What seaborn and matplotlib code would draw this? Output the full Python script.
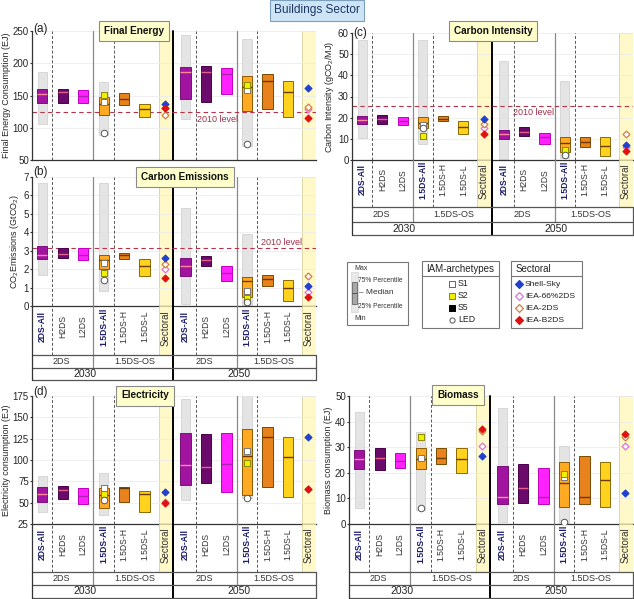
import numpy as np
import pandas as pd
import matplotlib
matplotlib.use('Agg')
import matplotlib.pyplot as plt
from matplotlib.patches import Rectangle
import seaborn as sns

# ---- categories / labels ----
years = ['2030', '2050']
cats = ['2DS-All', 'H2DS', 'L2DS', '1.5DS-All', '1.5DS-H', '1.5DS-L']
groups = ['2DS', '1.5DS-OS']
sectoral = ['Shell-Sky', 'IEA-66%2DS', 'IEA-2DS', 'IEA-B2DS']
archetypes = ['S1', 'S2', 'S5', 'LED']

# ---- (a) final energy (EJ): 6 categories 2030, then 6 for 2050 ----
fe_q1 = [138, 139, 138, 120, 135, 116, 144, 140, 152, 126, 129, 117]
fe_med = [152, 155, 149, 137, 145, 129, 186, 187, 184, 163, 173, 155]
fe_q3 = [160, 160, 159, 148, 154, 137, 194, 195, 192, 180, 184, 172]
fe_min = [106, 89, 113, 71]      # 2DS-All 2030, 1.5DS-All 2030, 2DS-All 2050, 1.5DS-All 2050
fe_max = [186, 171, 244, 238]
fe_s1 = [140, 159]               # 1.5DS-All 2030, 2050
fe_s2 = [151, 167]
fe_led = [92, 75]
fe_shell = [137, 162]            # sectoral 2030, 2050
fe_iea66 = [131, 129]
fe_iea2ds = [119, 132]
fe_b2ds = [130, 115]
fe_2010 = 124

# ---- (b) carbon emissions (GtCO2) ----
ce_q1 = [2.57, 2.60, 2.48, 2.03, 2.57, 1.61, 1.63, 2.15, 1.34, 0.49, 1.07, 0.27]
ce_med = [2.79, 2.84, 2.79, 2.48, 2.75, 2.15, 2.15, 2.48, 1.81, 1.34, 1.49, 1.00]
ce_q3 = [3.24, 3.17, 3.17, 2.75, 2.90, 2.53, 2.63, 2.71, 2.17, 1.57, 1.70, 1.43]
ce_min = [1.67, 0.82, 0.13, 0.04]
ce_max = [6.70, 6.70, 5.34, 3.93]
ce_s1 = [2.33, 0.80]
ce_s2 = [1.79, 0.43]
ce_led = [1.39, 0.22]
ce_shell = [2.61, 1.09]
ce_iea66 = [1.99, 0.76]
ce_iea2ds = [2.26, 1.63]
ce_b2ds = [1.54, 0.49]
ce_2010 = 3.15

# ---- (c) carbon intensity (gCO2/MJ) ----
ci_q1 = [16.9, 16.9, 16.6, 15.0, 18.5, 12.2, 9.9, 11.5, 7.4, 3.6, 6.3, 1.9]
ci_med = [18.9, 19.3, 18.5, 17.4, 19.6, 15.5, 12.2, 13.4, 11.1, 7.9, 8.4, 6.6]
ci_q3 = [20.8, 21.2, 20.2, 20.5, 21.0, 18.5, 14.2, 15.5, 12.9, 10.7, 10.7, 11.1]
ci_min = [10.3, 7.4, 0.3, 0.8]
ci_max = [56.5, 56.5, 46.9, 37.1]
ci_s1 = [16.5, 3.2]
ci_s2 = [11.5, 4.7]
ci_led = [15.0, 2.4]
ci_shell = [19.3, 7.1]
ci_iea66 = [15.2, 6.3]
ci_iea2ds = [17.1, 12.5]
ci_b2ds = [12.3, 4.3]
ci_2010 = 25.4

# ---- (d) electricity (EJ) ----
el_q1 = [50.4, 53.9, 48.1, 43.4, 51.1, 39.4, 70.7, 72.7, 62.2, 59.0, 68.0, 57.0]
el_med = [60.2, 64.8, 57.8, 59.0, 66.8, 60.2, 94.1, 92.2, 95.3, 104.7, 126.6, 103.2]
el_q3 = [68.0, 69.5, 66.8, 66.8, 68.0, 64.0, 132.0, 130.5, 132.0, 136.0, 139.0, 127.3]
el_min = [39.4, 35.5, 53.1, 55.0]
el_max = [81.2, 84.4, 171.5, 176.0]
el_s1 = [66.8, 110.9]
el_s2 = [60.2, 96.8]
el_led = [53.1, 55.8]
el_shell = [62.9, 126.6]
el_iea66 = [51.1, 65.7]
el_iea2ds = [np.nan, np.nan]
el_b2ds = [50.0, 66.5]

# ---- biomass (EJ) ----
bm_q1 = [21.3, 21.0, 21.7, 21.3, 23.4, 20.1, 7.8, 8.1, 7.8, 6.5, 7.7, 6.5]
bm_med = [25.2, 25.8, 24.5, 25.2, 25.8, 25.2, 10.6, 13.9, 10.6, 16.1, 10.6, 17.1]
bm_q3 = [29.1, 29.5, 27.8, 29.5, 29.7, 29.5, 22.6, 23.3, 21.9, 24.3, 26.5, 24.3]
bm_min = [6.1, 5.5, 0.9, 0.0]
bm_max = [43.7, 36.0, 45.4, 30.4]
bm_s1 = [25.6, 18.2]
bm_s2 = [33.8, 19.7]
bm_led = [6.4, 0.9]
bm_shell = [26.5, 12.3]
bm_iea66 = [30.4, 30.4]
bm_iea2ds = [36.4, 33.8]
bm_b2ds = [37.3, 35.3]

# ---- styling / layout ----
sns.set_style('white')
plt.rcParams['font.family'] = ['Liberation Sans', 'DejaVu Sans']
plt.rcParams['mathtext.fontset'] = 'custom'
plt.rcParams['mathtext.rm'] = 'Liberation Sans'

W, H = 634, 599
XMIN, XMAX = -0.5, 13.37
BOX_POS = np.array([0, 1, 2, 3, 4, 5, 7, 8, 9, 10, 11, 12])
ALL_POS = [0, 3, 7, 10]
IAM_POS = [3, 10]
SEC_POS = [6, 13]
DASHED = [0.5, 3.5, 7.5, 10.5]
THIN = [2.5, 9.5]
THICK = 6.4
BANDS = [(5.68, 6.36), (12.68, 13.36)]
YELLOW = '#fff9c9'
NAVY = '#1b1b6b'

BOX_COLS = ['#a0149f', '#6a0a6a', '#ff22ff', '#ffaa22', '#e8821c', '#ffd21e'] * 2
EDGE_COLS = ['#7a107a', '#4a004a', '#c000c0', '#8b5a00', '#7a4a00', '#8b6a00'] * 2
MED_COLS = ['#ff8a9a', '#e0608a', '#b020b0', '#6b3a00', '#6b3a00', '#6b3a00'] * 2

IAM_STYLE = {'S1': ('s', 16, 'white', '#777777'),
             'S2': ('s', 16, '#f2ee00', '#8a8a00'),
             'LED': ('o', 22, 'white', '#555555')}
SEC_STYLE = {'IEA-66%2DS': ('D', 12, 'white', '#e070e0'),
             'IEA-2DS': ('D', 12, 'white', '#d08040'),
             'Shell-Sky': ('D', 12, '#2040d0', '#2040d0'),
             'IEA-B2DS': ('D', 12, '#e01010', '#e01010')}


def frac(x0, y0, x1, y1):
    return [x0 / W, 1 - y1 / H, (x1 - x0) / W, (y1 - y0) / H]


def seps(ax, y0, y1, thin=True):
    for x in DASHED:
        ax.plot([x, x], [y0, y1], ls=(0, (3, 2)), color='#555555', lw=0.7, zorder=1.2)
    if thin:
        for x in THIN:
            ax.plot([x, x], [y0, y1], color='#8a8a8a', lw=0.9, zorder=1.2)
    ax.plot([THICK, THICK], [y0, y1], color='black', lw=1.4, zorder=1.2, clip_on=False)


def draw_panel(ax, q1, med, q3, lo, hi, s1, s2, led, sec, ylim, yticks, ylabel):
    q1, med, q3 = map(np.asarray, (q1, med, q3))
    ax.grid(axis='y', color='#ececec', lw=0.6)
    ax.set_axisbelow(True)
    for a, b in BANDS:
        ax.axvspan(a, b, fc=YELLOW, ec='#d8d09c', lw=0.6, zorder=0.5)
    seps(ax, ylim[0], ylim[1])
    ax.bar(ALL_POS, np.subtract(hi, lo), bottom=lo, width=0.44, color='#e4e4e4',
           edgecolor='#cdcdcd', lw=0.5, zorder=1.5)
    ax.bar(BOX_POS, q3 - q1, bottom=q1, width=0.5, color=BOX_COLS,
           edgecolor=EDGE_COLS, lw=0.7, zorder=2)
    ax.hlines(med, BOX_POS - 0.25, BOX_POS + 0.25, colors=MED_COLS, lw=1.0, zorder=3)

    iam = pd.DataFrame({'x': IAM_POS * 3, 'y': list(s1) + list(s2) + list(led),
                        'kind': ['S1'] * 2 + ['S2'] * 2 + ['LED'] * 2})
    for k, (m, s, fc, ec) in IAM_STYLE.items():
        d = iam[iam['kind'] == k].dropna()
        sns.scatterplot(data=d, x='x', y='y', marker=m, s=s, color=fc, edgecolor=ec,
                        linewidth=0.7, zorder=6, legend=False, ax=ax)
    sec_df = pd.DataFrame({'x': SEC_POS * 4, 'y': [v for vals in sec for v in vals],
                           'kind': [k for k in sectoral for _ in range(2)]})
    for k, (m, s, fc, ec) in SEC_STYLE.items():
        d = sec_df[sec_df['kind'] == k].dropna()
        sns.scatterplot(data=d, x='x', y='y', marker=m, s=s, color=fc, edgecolor=ec,
                        linewidth=0.9, zorder=6, legend=False, ax=ax)

    ax.set_xlim(XMIN, XMAX)
    ax.set_ylim(*ylim)
    ax.set_yticks(yticks)
    ax.set_xticks([])
    ax.set_xlabel('')
    ax.set_ylabel(ylabel, fontsize=6.5, labelpad=1.5)
    ax.tick_params(axis='y', labelsize=7, length=1.5, pad=0.8, left=True, color='#333333')
    for sp in ('top', 'right'):
        ax.spines[sp].set_visible(False)
    for sp in ('left', 'bottom'):
        ax.spines[sp].set_color('#333333')
        ax.spines[sp].set_linewidth(0.9)
    ax.patch.set_alpha(0)


def ref_line(ax, val, tx, ty):
    ax.axhline(val, color='#b5344a', ls=(0, (4, 3)), lw=0.8, zorder=1.6)
    ax.text(tx, ty, '2010 level', color='#a0304a', fontsize=6.5, ha='left', va='center', zorder=7)


def draw_table(ax, rows, sub_x, year_x):
    lab, sub, yr = rows
    tot = lab + sub + yr
    ys, yl = yr, yr + sub
    ax.set_xlim(XMIN, XMAX)
    ax.set_ylim(0, tot)
    ax.axis('off')
    for a, b in BANDS:
        ax.add_patch(Rectangle((a, yl), b - a, lab, fc=YELLOW, ec='#d8d09c', lw=0.6))
    seps(ax, yl, tot, thin=False)
    for x in THIN:
        ax.plot([x, x], [ys, tot], color='#8a8a8a', lw=0.9)
    ax.plot([THICK, THICK], [0, tot], color='black', lw=1.4, clip_on=False)
    for y in (0, ys, yl):
        ax.plot([XMIN, XMAX], [y, y], color='#555555', lw=0.9, clip_on=False)
    ax.plot([XMIN, XMIN], [0, tot], color='#333333', lw=0.9, clip_on=False)
    ax.plot([XMAX, XMAX], [0, yl], color='#555555', lw=0.9, clip_on=False)
    for j in range(2):
        for i, c in enumerate(cats):
            bold = c.endswith('All')
            ax.text(j * 7 + i, yl + lab * 0.58, c, rotation=90, ha='center', va='center',
                    fontsize=6.2, fontweight='bold' if bold else 'normal',
                    color=NAVY if bold else '#333333')
        ax.text(SEC_POS[j], yl + lab * 0.55, 'Sectoral', rotation=90, ha='center',
                va='center', fontsize=7, color='#333333')
    for x, g in zip(sub_x, groups * 2):
        ax.text(x, ys + sub / 2, g, ha='center', va='center', fontsize=6.5, color='#333333')
    for x, yv in zip(year_x, years):
        ax.text(x, yr / 2, yv, ha='center', va='center', fontsize=7.5, color='#222222')


fig = plt.figure(figsize=(6.34, 5.99), dpi=100)

# (a)
ax_a = fig.add_axes(frac(32, 31, 316, 160))
draw_panel(ax_a, fe_q1, fe_med, fe_q3, fe_min, fe_max, fe_s1, fe_s2, fe_led,
           [fe_shell, fe_iea66, fe_iea2ds, fe_b2ds], (50, 250), [50, 100, 150, 200, 250],
           'Final Energy Consumption (EJ)')
ref_line(ax_a, fe_2010, 7.55, 113.5)

# (b)
ax_b = fig.add_axes(frac(32, 177, 316, 306))
draw_panel(ax_b, ce_q1, ce_med, ce_q3, ce_min, ce_max, ce_s1, ce_s2, ce_led,
           [ce_shell, ce_iea66, ce_iea2ds, ce_b2ds], (0, 7), range(0, 8),
           r'CO$_\mathregular{2}$Emissions (GtCO$_\mathregular{2}$)')
ref_line(ax_b, ce_2010, 10.7, 3.47)
draw_table(fig.add_axes(frac(32, 306, 316, 380)), (49, 13, 12),
           [0.93, 4.5, 7.9, 11.3], [2.07, 9.59])

# (c)
ax_c = fig.add_axes(frac(352, 33, 633, 160))
draw_panel(ax_c, ci_q1, ci_med, ci_q3, ci_min, ci_max, ci_s1, ci_s2, ci_led,
           [ci_shell, ci_iea66, ci_iea2ds, ci_b2ds], (0, 60), range(0, 61, 10),
           r'Carbon Intensity (gCO$_\mathregular{2}$/MJ)')
ref_line(ax_c, ci_2010, 7.45, 22.4)
draw_table(fig.add_axes(frac(352, 160, 633, 235)), (47, 15, 13),
           [0.93, 4.5, 7.9, 11.3], [2.07, 9.59])

# (d)
ax_d = fig.add_axes(frac(32, 396, 316, 524))
draw_panel(ax_d, el_q1, el_med, el_q3, el_min, el_max, el_s1, el_s2, el_led,
           [el_shell, el_iea66, el_iea2ds, el_b2ds], (25, 175), range(25, 176, 25),
           'Electricity consumption (EJ)')
draw_table(fig.add_axes(frac(32, 524, 316, 598)), (48, 13, 13),
           [0.93, 4.5, 7.9, 11.3], [2.07, 9.59])

# biomass
ax_e = fig.add_axes(frac(349, 396, 633, 524))
draw_panel(ax_e, bm_q1, bm_med, bm_q3, bm_min, bm_max, bm_s1, bm_s2, bm_led,
           [bm_shell, bm_iea66, bm_iea2ds, bm_b2ds], (0, 50), range(0, 51, 10),
           'Biomass consumption (EJ)')
draw_table(fig.add_axes(frac(349, 524, 633, 598)), (48, 13, 13),
           [0.93, 4.5, 7.9, 11.3], [2.07, 9.59])

# ---- overlay in pixel coords: titles, panel letters, legend keys ----
ov = fig.add_axes([0, 0, 1, 1])
ov.set_xlim(0, W)
ov.set_ylim(H, 0)
ov.axis('off')

ov.text(317, 10.5, 'Buildings Sector', ha='center', va='center', fontsize=8.6, color='#1f3864',
        bbox=dict(boxstyle='square,pad=0.35', fc='#cde4f6', ec='#7f9fbf', lw=0.8))
for txt, cx, cy in [('Final Energy', 134, 30.5), ('Carbon Emissions', 185, 177),
                    ('Carbon Intensity', 493, 31), ('Electricity', 145, 395.5),
                    ('Biomass', 458, 395)]:
    ov.text(cx, cy, txt, ha='center', va='center', fontsize=7.2, fontweight='bold',
            color='#111111',
            bbox=dict(boxstyle='square,pad=0.5', fc='#ffffcc', ec='#8a8a8a', lw=0.8))
for txt, x, y in [('(a)', 33, 29), ('(b)', 33, 172), ('(c)', 353, 33), ('(d)', 33, 392)]:
    ov.text(x, y, txt, ha='left', va='center', fontsize=8.5, color='#222222')

# range key
ov.add_patch(Rectangle((347, 262), 61, 63, fc='white', ec='#777777', lw=0.8))
ov.add_patch(Rectangle((351, 272), 7, 40, fc='#e8e8e8', ec='#d4d4d4', lw=0.5))
ov.add_patch(Rectangle((352, 282), 5, 22, fc='#a8a8a8', ec='#666666', lw=0.6))
ov.plot([352, 357], [293, 293], color='#555555', lw=0.7)
ov.text(354, 268.5, 'Max', fontsize=5, va='center', color='#333333')
ov.text(358, 280.5, '75% Percentile', fontsize=4.8, va='center', color='#333333')
ov.text(359, 293, '– Median', fontsize=6, va='center', color='#333333')
ov.text(358, 307, '25% Percentile', fontsize=4.8, va='center', color='#333333')
ov.text(354, 319, 'Min', fontsize=5, va='center', color='#333333')

# IAM-archetypes key
rows_y = [284, 296, 308, 320]
ov.add_patch(Rectangle((422, 261), 77, 67, fc='white', ec='#777777', lw=0.8))
ov.plot([422, 499], [276, 276], color='#777777', lw=0.8)
ov.text(460.5, 268.5, 'IAM-archetypes', ha='center', va='center', fontsize=7, color='#222222')
key_iam = {'S1': ('s', 'white', '#666666'), 'S2': ('s', '#f2ee00', '#8a8a00'),
           'S5': ('s', 'black', 'black'), 'LED': ('o', 'white', '#555555')}
for y, k in zip(rows_y, archetypes):
    m, fc, ec = key_iam[k]
    ov.scatter([452], [y], marker=m, s=14, c=fc, edgecolors=ec, linewidths=0.7)
    ov.text(458, y, k, fontsize=6.3, va='center', color='#222222')

# Sectoral key
ov.add_patch(Rectangle((511, 261), 71, 67, fc='white', ec='#777777', lw=0.8))
ov.plot([511, 582], [276, 276], color='#777777', lw=0.8)
ov.text(533, 268.5, 'Sectoral', ha='center', va='center', fontsize=7, color='#222222')
for y, k in zip(rows_y, sectoral):
    m, s, fc, ec = SEC_STYLE[k]
    ov.scatter([519], [y], marker=m, s=16, c=fc, edgecolors=ec, linewidths=0.9)
    ov.text(525, y, k, fontsize=6.1, va='center', color='#222222')

fig.savefig('out.png', dpi=100)
